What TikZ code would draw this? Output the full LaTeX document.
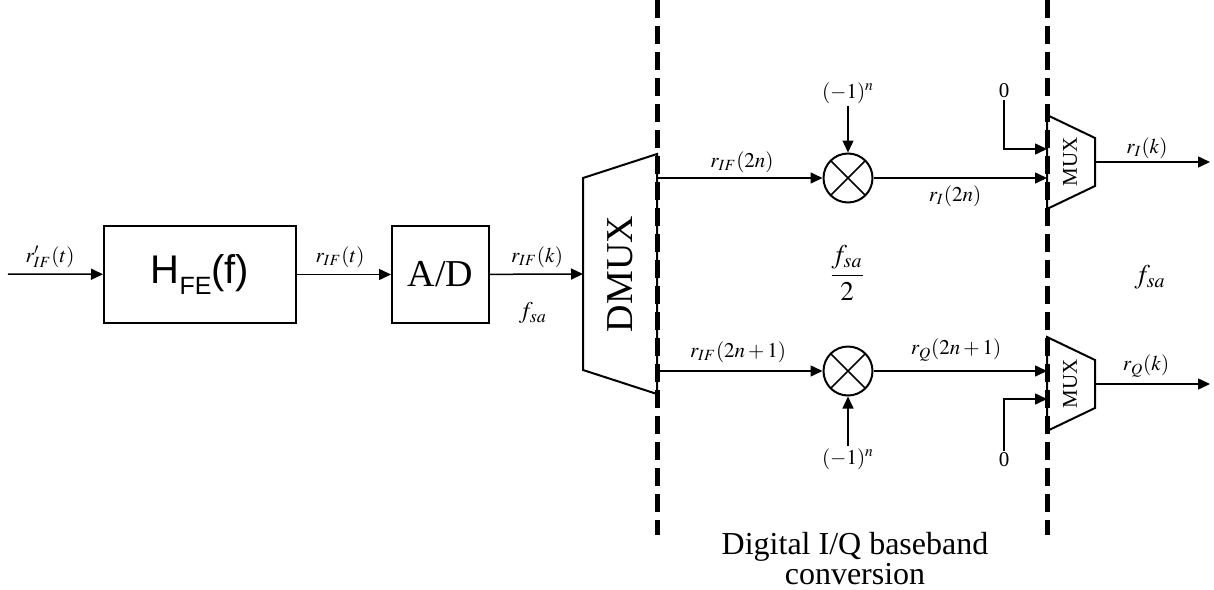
\documentclass[tikz,border=0pt]{standalone}
\usepackage{amsmath}
\usepackage{mathptmx}
\usepackage[no-math]{fontspec}
\setmainfont{Liberation Serif}
\newfontfamily\arialfont{Liberation Sans}
\usepackage{tikz}
\usetikzlibrary{arrows.meta}
\tikzset{
  block/.style={rectangle, draw, line width=1pt, minimum width=96pt,
    minimum height=48.5pt, inner sep=0pt},
  mixer/.style={circle, draw, line width=1pt, minimum size=24.5pt, inner sep=0pt,
    path picture={\draw[line width=0.75pt]
      (path picture bounding box.north west) -- (path picture bounding box.south east)
      (path picture bounding box.south west) -- (path picture bounding box.north east);}},
  sig/.style={-{Triangle[length=6pt,width=5.5pt]}, line width=0.75pt},
  line/.style={line width=0.75pt},
  divider/.style={line width=2.5pt, dash pattern=on 9pt off 4pt},
  lbl/.style={font=\fontsize{10.5}{12}\selectfont, inner sep=1pt}
}

\begin{document}
\begin{tikzpicture}[x=0.5pt, y=-0.5pt]
    \useasboundingbox (0,0) rectangle (1214,589);

    % Front end
    \coordinate (in) at (8,274);
    \node[block, font=\arialfont\fontsize{20}{24}\selectfont] (hfe) at (200,274.5)
      {H\raisebox{-5.5pt}{\fontsize{12.5}{12.5}\selectfont FE}(f)};
    \node[block, minimum width=48.5pt, font=\fontsize{19}{22}\selectfont] (adc) at (440.5,274.5) {A/D};
    \draw[sig] (in) -- (hfe);
    \draw[sig] (hfe) -- (adc);
    \node[lbl] (rin) at (50,257) {$r'_{IF}(t)$};
    \node[lbl] (rift) at (340,257) {$r_{IF}(t)$};

    % DMUX
    \coordinate (dmuxIn) at (583,274);
    \coordinate (dmuxI) at (657,178);
    \coordinate (dmuxQ) at (657,371);
    \draw[line width=1pt] (583,178) -- (657,154) -- (657,394) -- (583,370) -- cycle;
    \node[rotate=90, font=\fontsize{19}{22}\selectfont] (dmux) at (620,274) {DMUX};
    \draw[sig] (adc) -- (dmuxIn);
    \node[lbl] (rifk) at (537,257) {$r_{IF}(k)$};
    \node[font=\fontsize{12}{14}\selectfont] (fsaAD) at (533,313) {$f_{sa}$};

    % I branch
    \node[mixer] (mixI) at (848,178) {};
    \node[lbl] (sgnI) at (848,93) {$(-1)^n$};
    \coordinate (muxIr) at (1047,178);
    \draw[sig] (dmuxI) -- (mixI);
    \draw[sig] (sgnI) -- (mixI);
    \draw[sig] (mixI) -- (muxIr);
    \node[lbl] (riev) at (742,162) {$r_{IF}(2n)$};
    \node[lbl] (rI) at (955,196) {$r_I(2n)$};

    % Q branch
    \node[mixer] (mixQ) at (848,371) {};
    \node[lbl] (sgnQ) at (848,459) {$(-1)^n$};
    \coordinate (muxQr) at (1047,371);
    \draw[sig] (dmuxQ) -- (mixQ);
    \draw[sig] (sgnQ) -- (mixQ);
    \draw[sig] (mixQ) -- (muxQr);
    \node[lbl] (riodd) at (738,352) {$r_{IF}(2n+1)$};
    \node[lbl] (rQ) at (956,350) {$r_Q(2n+1)$};

    \node[font=\fontsize{13.5}{16}\selectfont] (fsaHalf) at (847,273) {$\dfrac{f_{sa}}{2}$};

    % MUX I
    \draw[line width=1pt] (1047,115) -- (1095,138) -- (1095,186) -- (1047,209) -- cycle;
    \node[rotate=90, font=\fontsize{10.5}{12}\selectfont] (muxI) at (1070,162) {MUX};
    \node[lbl] (zeroI) at (1004,91) {0};
    \coordinate (muxI0) at (1047,149);
    \draw[sig] (zeroI) |- (muxI0);
    \coordinate (muxIout) at (1095,162);
    \coordinate (outI) at (1210,162);
    \draw[sig] (muxIout) -- (outI);
    \node[lbl] (rIk) at (1147,148) {$r_I(k)$};

    % MUX Q
    \draw[line width=1pt] (1047,337) -- (1095,360) -- (1095,408) -- (1047,431) -- cycle;
    \node[rotate=90, font=\fontsize{10.5}{12}\selectfont] (muxQ) at (1070,384) {MUX};
    \node[lbl] (zeroQ) at (1004,460) {0};
    \coordinate (muxQ0) at (1047,399);
    \draw[sig] (zeroQ) |- (muxQ0);
    \coordinate (muxQout) at (1095,384);
    \coordinate (outQ) at (1210,384);
    \draw[sig] (muxQout) -- (outQ);
    \node[lbl] (rQk) at (1146,366) {$r_Q(k)$};

    \node[font=\fontsize{13.5}{16}\selectfont] (fsaOut) at (1150,277) {$f_{sa}$};

    % Dividers
    \coordinate (divAtop) at (657,0);
    \coordinate (divAbot) at (657,535);
    \coordinate (divBtop) at (1047,0);
    \coordinate (divBbot) at (1047,535);
    \draw[divider] (divAtop) -- (divAbot);
    \draw[divider] (divBtop) -- (divBbot);
    \node[align=center, anchor=north, inner sep=0pt, font=\fontsize{16}{15}\selectfont] (caption) at (855,532)
      {Digital I/Q baseband\\conversion};
\end{tikzpicture}
\end{document}
